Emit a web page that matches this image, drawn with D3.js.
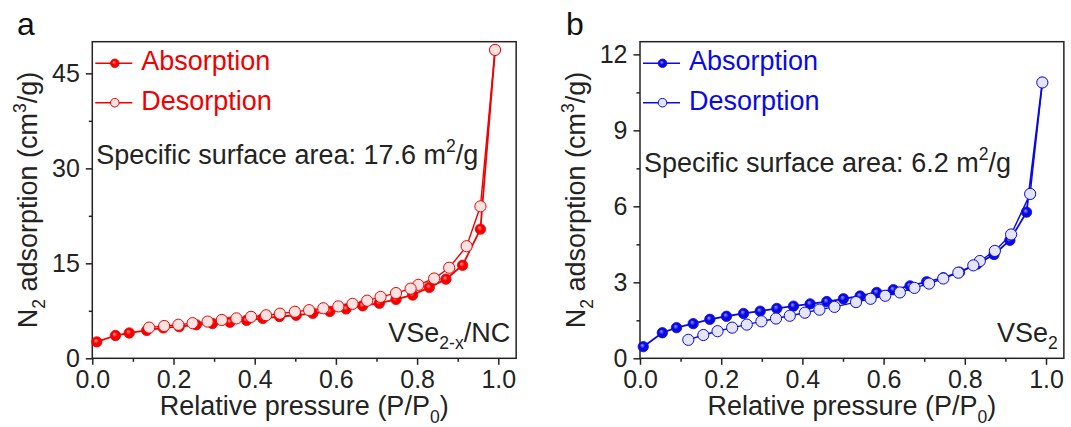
<!DOCTYPE html>
<html>
<head>
<meta charset="utf-8">
<script src="https://cdn.jsdelivr.net/npm/d3@7"></script>
<style>
  html, body { margin: 0; padding: 0; background: #fff; }
  svg text { font-family: "Liberation Sans", Arial, Helvetica, sans-serif; }
</style>
</head>
<body>
<svg id="chart" width="1071" height="427"></svg>
<script>
// ---- N2 isotherm data: relative pressure P/P0 and adsorbed volume (cm3/g) ----
// VSe2-x/NC
const ncAdsP = [0.011, 0.057, 0.091, 0.134, 0.175, 0.214, 0.256, 0.296, 0.339, 0.380, 0.420, 0.461, 0.502, 0.543, 0.585, 0.625, 0.666, 0.707, 0.748, 0.789, 0.830, 0.871, 0.912, 0.956, 0.992];
const ncAdsV = [2.6, 3.6, 4.0, 4.4, 4.8, 5.0, 5.3, 5.5, 5.7, 6.0, 6.3, 6.6, 6.8, 7.1, 7.4, 7.8, 8.3, 8.7, 9.3, 10.0, 11.2, 12.5, 14.7, 20.4, 48.7];
const ncDesP = [0.992, 0.956, 0.922, 0.879, 0.842, 0.803, 0.784, 0.748, 0.710, 0.677, 0.641, 0.606, 0.569, 0.534, 0.499, 0.462, 0.428, 0.391, 0.355, 0.319, 0.284, 0.247, 0.212, 0.177, 0.140];
const ncDesV = [48.7, 24.0, 17.7, 14.3, 12.6, 11.6, 11.0, 10.3, 9.7, 9.1, 8.6, 8.2, 7.9, 7.6, 7.35, 7.05, 6.8, 6.55, 6.3, 6.05, 5.8, 5.55, 5.3, 5.1, 4.85];

// VSe2
const vsAdsP = [0.008, 0.055, 0.090, 0.131, 0.172, 0.213, 0.255, 0.296, 0.337, 0.378, 0.419, 0.460, 0.501, 0.542, 0.583, 0.624, 0.665, 0.706, 0.747, 0.787, 0.830, 0.872, 0.911, 0.952, 0.991];
const vsAdsV = [0.46, 1.01, 1.21, 1.37, 1.54, 1.66, 1.77, 1.86, 1.97, 2.06, 2.15, 2.24, 2.35, 2.46, 2.60, 2.71, 2.86, 3.02, 3.18, 3.40, 3.72, 4.10, 4.66, 5.77, 10.89];
const vsDesP = [0.991, 0.961, 0.914, 0.874, 0.837, 0.821, 0.784, 0.747, 0.712, 0.676, 0.640, 0.604, 0.568, 0.532, 0.479, 0.442, 0.406, 0.369, 0.335, 0.299, 0.263, 0.227, 0.191, 0.156, 0.119];
const vsDesV = [10.89, 6.49, 4.89, 4.24, 3.84, 3.67, 3.38, 3.15, 2.95, 2.78, 2.60, 2.47, 2.35, 2.22, 2.03, 1.92, 1.80, 1.68, 1.57, 1.46, 1.33, 1.21, 1.07, 0.92, 0.73];

// ---- axis ticks ----
const pressureTicks = [0, 0.2, 0.4, 0.6, 0.8, 1.0];
const pressureMinor = [0.1, 0.3, 0.5, 0.7, 0.9];
const ncYTicks = [0, 15, 30, 45];
const ncYMinor = [7.5, 22.5, 37.5];
const vsYTicks = [0, 3, 6, 9, 12];
const vsYMinor = [1.5, 4.5, 7.5, 10.5];

const legendLabels = ["Absorption", "Desorption"];

const svg = d3.select("#chart");
const defs = svg.append("defs");
const INK = "#232323";
const P_MAX = 1.044;

function ballGradient(id, light, base) {
  const g = defs.append("radialGradient").attr("id", id)
    .attr("cx", "50%").attr("cy", "50%").attr("r", "55%")
    .attr("fx", "38%").attr("fy", "35%");
  g.append("stop").attr("offset", "0%").attr("stop-color", light);
  g.append("stop").attr("offset", "45%").attr("stop-color", base);
  g.append("stop").attr("offset", "100%").attr("stop-color", base);
}
ballGradient("ballRed", "#ff9a9a", "#f50000");
ballGradient("ballBlue", "#9a9aff", "#0a0ae0");

// Text made of runs; sub/sup runs are smaller and shifted.
function richText(sel, parts, size) {
  let shift = 0;
  parts.forEach(p => {
    const t = sel.append("tspan").text(p.t);
    let target = 0;
    if (p.sub) { t.attr("font-size", size * 0.65); target = size * 0.28; }
    else if (p.sup) { t.attr("font-size", size * 0.65); target = -size * 0.42; }
    if (target !== shift) { t.attr("dy", target - shift); shift = target; }
  });
  return sel;
}

function drawPanel(p) {
  const g = svg.append("g");
  const x = d3.scaleLinear().domain([0, P_MAX]).range([p.left, p.right]);
  const y = d3.scaleLinear().domain([0, p.yMax]).range([p.bottom, p.top]);

  const styleAxis = s => {
    s.select(".domain").remove();
    s.selectAll(".tick line").attr("stroke", INK).attr("stroke-width", 1.5);
    s.selectAll(".tick text").attr("fill", INK).attr("font-size", 25)
      .attr("font-family", '"Liberation Sans", Arial, sans-serif');
  };

  // minor ticks
  g.append("g").attr("transform", `translate(0,${p.bottom})`)
    .call(d3.axisBottom(x).tickValues(pressureMinor).tickSize(3.5).tickFormat(""))
    .call(styleAxis);
  g.append("g").attr("transform", `translate(${p.left},0)`)
    .call(d3.axisLeft(y).tickValues(p.yMinor).tickSize(3.5).tickFormat(""))
    .call(styleAxis);
  // major ticks
  g.append("g").attr("transform", `translate(0,${p.bottom})`)
    .call(d3.axisBottom(x).tickValues(pressureTicks).tickSize(6.5).tickPadding(5)
      .tickFormat(d3.format(".1f")))
    .call(styleAxis);
  g.append("g").attr("transform", `translate(${p.left},0)`)
    .call(d3.axisLeft(y).tickValues(p.yTicks).tickSize(6.5).tickPadding(6)
      .tickFormat(d3.format("d")))
    .call(styleAxis);

  // frame
  g.append("rect")
    .attr("x", p.left).attr("y", p.top)
    .attr("width", p.right - p.left).attr("height", p.bottom - p.top)
    .attr("fill", "none").attr("stroke", INK).attr("stroke-width", 1.5);

  // isotherm curves
  const line = d3.line().x(d => x(d[0])).y(d => y(d[1]));
  const ads = d3.zip(p.adsP, p.adsV);
  const des = d3.zip(p.desP, p.desV);
  g.append("path").datum(ads).attr("d", line)
    .attr("fill", "none").attr("stroke", p.color).attr("stroke-width", 1.8);
  g.append("path").datum(des).attr("d", line)
    .attr("fill", "none").attr("stroke", p.color).attr("stroke-width", 1.4);

  g.selectAll(".ads").data(ads).join("circle").attr("class", "ads")
    .attr("cx", d => x(d[0])).attr("cy", d => y(d[1])).attr("r", 5.2)
    .attr("fill", `url(#${p.ball})`).attr("stroke", p.color).attr("stroke-width", 0.8);
  g.selectAll(".des").data(des).join("circle").attr("class", "des")
    .attr("cx", d => x(d[0])).attr("cy", d => y(d[1])).attr("r", 5.6)
    .attr("fill", p.openFill).attr("stroke", p.color).attr("stroke-width", 1);

  // legend
  const legY = [p.top + 21.6, p.top + 61];
  legendLabels.forEach((lab, i) => {
    const ly = legY[i];
    g.append("line").attr("x1", p.left + 3).attr("x2", p.left + 40)
      .attr("y1", ly).attr("y2", ly).attr("stroke", p.color).attr("stroke-width", 1.6);
    if (i === 0) {
      g.append("circle").attr("cx", p.left + 22.5).attr("cy", ly).attr("r", 4.3)
        .attr("fill", `url(#${p.ball})`).attr("stroke", p.color).attr("stroke-width", 0.8);
    } else {
      g.append("circle").attr("cx", p.left + 22.5).attr("cy", ly).attr("r", 4.3)
        .attr("fill", p.openFill).attr("stroke", p.color).attr("stroke-width", 1);
    }
    g.append("text").attr("x", p.left + 49).attr("y", ly + 6.8)
      .attr("font-size", 27).attr("fill", p.color).text(lab);
  });

  // surface area note
  richText(g.append("text").attr("x", p.left + 4).attr("y", p.noteY)
    .attr("font-size", 27).attr("fill", INK), p.note, 27);

  // sample name
  richText(g.append("text").attr("x", p.right - 6).attr("y", p.bottom - 16.5)
    .attr("text-anchor", "end").attr("font-size", 27).attr("fill", INK), p.sample, 27);

  // axis titles
  richText(g.append("text").attr("x", (p.left + p.right) / 2).attr("y", 415)
    .attr("text-anchor", "middle").attr("font-size", 27).attr("fill", INK),
    [{ t: "Relative pressure (P/P" }, { t: "0", sub: true }, { t: ")" }], 27);

  const yc = (p.top + p.bottom) / 2;
  richText(g.append("text")
    .attr("transform", `translate(${p.left - 55},${yc}) rotate(-90)`)
    .attr("text-anchor", "middle").attr("font-size", 27).attr("fill", INK),
    [{ t: "N" }, { t: "2", sub: true }, { t: " adsorption (cm" }, { t: "3", sup: true }, { t: "/g)" }], 27);

  // panel letter
  svg.append("text").attr("x", p.letterX).attr("y", 35)
    .attr("font-size", 32).attr("fill", "#111").text(p.letter);
}

drawPanel({
  left: 92.3, right: 92.3 + 406 * P_MAX, top: 41.7, bottom: 358.3,
  yMax: 50, yTicks: ncYTicks, yMinor: ncYMinor,
  adsP: ncAdsP, adsV: ncAdsV, desP: ncDesP, desV: ncDesV,
  color: "#f00000", ball: "ballRed", openFill: "#fde2e2",
  note: [{ t: "Specific surface area: 17.6 m" }, { t: "2", sup: true }, { t: "/g" }],
  noteY: 163.5,
  sample: [{ t: "VSe" }, { t: "2-x", sub: true }, { t: "/NC" }],
  letter: "a", letterX: 17
});

drawPanel({
  left: 640, right: 640 + 406 * P_MAX, top: 41.7, bottom: 358.3,
  yMax: 12.5, yTicks: vsYTicks, yMinor: vsYMinor,
  adsP: vsAdsP, adsV: vsAdsV, desP: vsDesP, desV: vsDesV,
  color: "#0a0ae6", ball: "ballBlue", openFill: "#e4e4fa",
  note: [{ t: "Specific surface area: 6.2 m" }, { t: "2", sup: true }, { t: "/g" }],
  noteY: 171.5,
  sample: [{ t: "VSe" }, { t: "2", sub: true }],
  letter: "b", letterX: 566
});
</script>
</body>
</html>
